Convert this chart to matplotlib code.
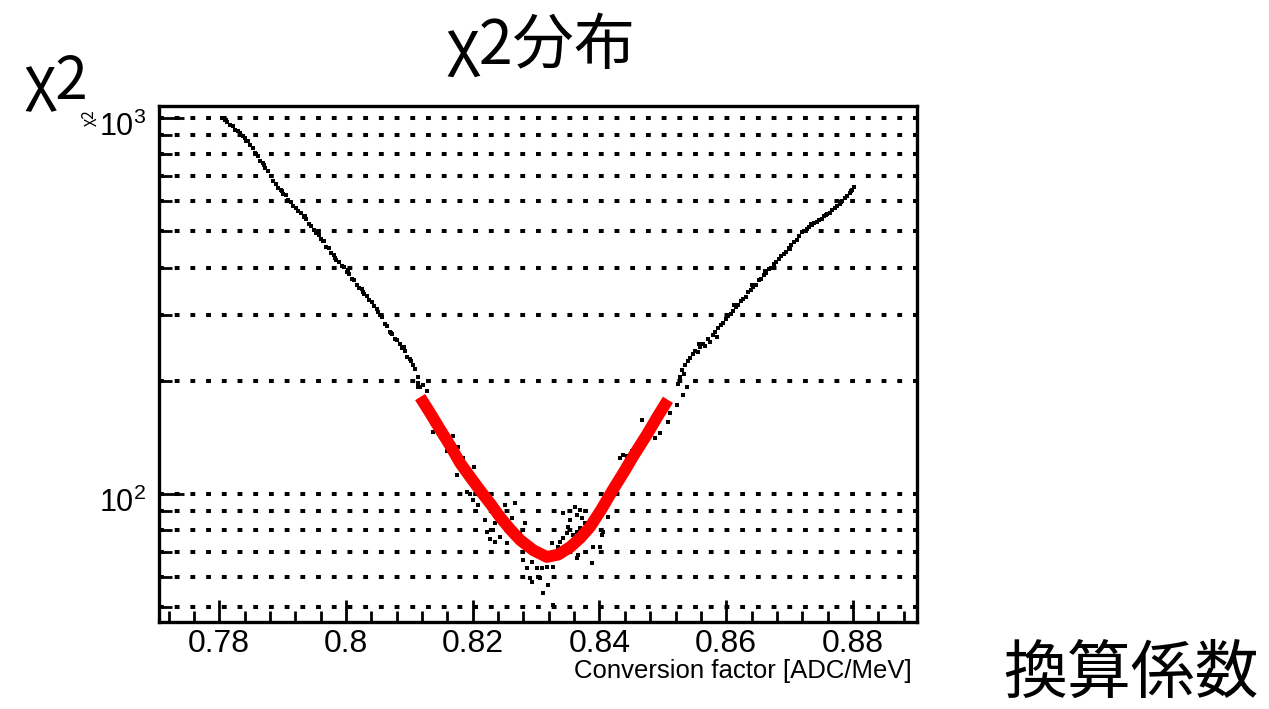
import matplotlib
matplotlib.use("Agg")
import matplotlib.pyplot as plt
import matplotlib.transforms as mtransforms
import numpy as np

plt.rcParams["font.family"] = ["Liberation Sans", "DejaVu Sans"]
plt.rcParams["mathtext.fontset"] = "custom"
plt.rcParams["mathtext.rm"] = "Liberation Sans"
plt.rcParams["mathtext.it"] = "Liberation Sans"

cjk = ["Noto Sans CJK JP", "DejaVu Sans"]

# chi2 scan: conversion factor vs chi2 (black points)
scan_x = [
    0.7805, 0.7809, 0.7811, 0.7813, 0.7817, 0.7821, 0.7825, 0.7829, 0.7833, 0.7837,
    0.7841, 0.7843, 0.7845, 0.7849, 0.7853, 0.7857, 0.7861, 0.7865, 0.7869, 0.7871,
    0.7873, 0.7877, 0.7881, 0.7885, 0.7889, 0.7893, 0.7897, 0.7899, 0.7901, 0.7905,
    0.7909, 0.7913, 0.7917, 0.7921, 0.7925, 0.7929, 0.7933, 0.7935, 0.7937, 0.7941,
    0.7945, 0.7949, 0.7953, 0.7957, 0.7961, 0.7963, 0.7965, 0.7969, 0.7973, 0.7977,
    0.7981, 0.7983, 0.7985, 0.7989, 0.7993, 0.7997, 0.8001, 0.8003, 0.8005, 0.8009,
    0.8013, 0.8017, 0.8021, 0.8025, 0.8027, 0.8029, 0.8033, 0.8037, 0.8041, 0.8045,
    0.8049, 0.8051, 0.8053, 0.8057, 0.8061, 0.8065, 0.8069, 0.8071, 0.8073, 0.8077,
    0.8081, 0.8085, 0.8089, 0.8091, 0.8093, 0.8097, 0.8101, 0.8103, 0.8105, 0.8109,
    0.8113, 0.8114, 0.8114, 0.8117, 0.8122, 0.8128,
    # around the minimum
    0.8138, 0.8169, 0.8160, 0.8177, 0.8185, 0.8202, 0.8175, 0.8191, 0.8196, 0.8212,
    0.8201, 0.8209, 0.8251, 0.8267, 0.8262, 0.8220, 0.8235, 0.8223, 0.8232, 0.8227,
    0.8235, 0.8243, 0.8254, 0.8275, 0.8283, 0.8291, 0.8298, 0.8295, 0.8280, 0.8286,
    0.8294, 0.8302, 0.8309, 0.8317, 0.8327, 0.8291, 0.8294, 0.8306, 0.8319, 0.8311,
    0.8327, 0.8325, 0.8335, 0.8338, 0.8343, 0.8349, 0.8350, 0.8354, 0.8362, 0.8369,
    0.8365, 0.8373, 0.8377, 0.8369, 0.8365, 0.8358, 0.8366, 0.8365, 0.8388, 0.8390,
    0.8401, 0.8404, 0.8406, 0.8343, 0.8414, 0.8433, 0.8437, 0.8444, 0.8451, 0.8461,
    0.8467, 0.8488, 0.8496, 0.8508, 0.8511, 0.8522, 0.8532, 0.8538, 0.8524,
    # right branch
    0.8527, 0.8531, 0.8533, 0.8535, 0.8539, 0.8543, 0.8547, 0.8551, 0.8555, 0.8557,
    0.8559, 0.8563, 0.8567, 0.8571, 0.8575, 0.8579, 0.8583, 0.8585, 0.8587, 0.8591,
    0.8595, 0.8599, 0.8603, 0.8607, 0.8611, 0.8613, 0.8615, 0.8619, 0.8623, 0.8627,
    0.8631, 0.8635, 0.8639, 0.8641, 0.8643, 0.8647, 0.8651, 0.8655, 0.8659, 0.8661,
    0.8663, 0.8667, 0.8671, 0.8673, 0.8675, 0.8679, 0.8683, 0.8687, 0.8691, 0.8695,
    0.8699, 0.8701, 0.8703, 0.8707, 0.8711, 0.8715, 0.8719, 0.8723, 0.8727, 0.8731,
    0.8733, 0.8735, 0.8739, 0.8743, 0.8747, 0.8751, 0.8755, 0.8757, 0.8759, 0.8763,
    0.8767, 0.8771, 0.8775, 0.8779, 0.8781, 0.8783, 0.8787, 0.8791, 0.8795, 0.8797,
    0.8799, 0.8801,
]
scan_chi2 = [
    1000, 985, 990, 978, 958, 950, 930, 925, 910, 896,
    885, 870, 868, 845, 832, 808, 793, 770, 757, 748,
    735, 722, 700, 680, 668, 652, 645, 640, 628, 622,
    604, 598, 585, 575, 566, 560, 545, 548, 538, 522,
    516, 505, 494, 488, 478, 470, 470, 455, 450, 438,
    432, 425, 420, 414, 405, 402, 390, 395, 384, 373,
    370, 360, 352, 350, 344, 340, 336, 327, 325, 316,
    310, 305, 300, 296, 284, 280, 270, 268, 266, 258,
    256, 250, 244, 246, 240, 232, 228, 226, 220, 215,
    205, 197, 193, 192, 195, 188,
    146, 143, 130, 133, 125, 118, 112, 101, 100, 104,
    96.4, 93.5, 93.5, 94.6, 86.3, 85.3, 83.7, 79.2, 80.2, 75.9,
    74.5, 76.9, 74.1, 78.8, 83.7, 73.2, 71.9, 69.7, 66.8, 63.5,
    65.9, 63.5, 63.5, 63.9, 63.9, 59.8, 58.3, 59.8, 57.3, 54.5,
    50.7, 74.1, 72.3, 74.5, 76.4, 78.8, 81.7, 85.3, 92.3, 90.7,
    87.9, 86.3, 83.7, 81.2, 79.2, 77.8, 68.8, 67.6, 65.5, 72.3,
    72.3, 77.8, 79.2, 89.0, 86.9, 124.6, 127.0, 126.2, 130.1, 136.7,
    157.4, 140.9, 145.3, 155.4, 164.3, 172.5, 183.4, 192.6, 196,
    205, 214, 208, 220, 226, 230, 236, 240, 238, 250,
    246, 250, 248, 258, 254, 265, 270, 262, 276, 282,
    285, 292, 298, 301, 306, 318, 314, 318, 326, 330,
    335, 344, 348, 360, 356, 360, 370, 373, 382, 392,
    388, 396, 400, 398, 410, 415, 422, 430, 436, 440,
    452, 448, 458, 468, 474, 486, 496, 502, 508, 513,
    522, 520, 524, 530, 536, 540, 548, 552, 556, 560,
    568, 575, 582, 590, 598, 600, 612, 620, 630, 638,
    645, 655,
]

# fitted curve around the minimum (red)
fit_x = [0.8117, 0.8133, 0.8149, 0.8165, 0.8180, 0.8196, 0.8212, 0.8228, 0.8243,
         0.8259, 0.8275, 0.8296, 0.8317, 0.8335, 0.8354, 0.8370, 0.8385, 0.8403,
         0.8421, 0.8438, 0.8454, 0.8475, 0.8491, 0.8508]
fit_chi2 = [181, 164, 148, 134, 121, 111, 102, 94.2, 86.9,
            80.6, 75.4, 70.8, 68.0, 69.0, 72.3, 76.5, 81.7, 91.0,
            102.5, 114, 126.6, 144, 160, 178]

x_major = [0.78, 0.80, 0.82, 0.84, 0.86, 0.88]
x_labels = ["0.78", "0.8", "0.82", "0.84", "0.86", "0.88"]
y_major = [100, 1000]
y_minor = [50, 60, 70, 80, 90, 200, 300, 400, 500, 600, 700, 800, 900]

fig = plt.figure(figsize=(12.69, 7.09), dpi=100)
ax = fig.add_axes([0.1253, 0.1227, 0.5973, 0.7278])

ax.set_yscale("log")
ax.set_xlim(0.7705, 0.8901)
ax.set_ylim(45.66, 1076)

# dotted grid on every y tick
for g in sorted(y_major + y_minor):
    ax.axhline(g, color="black", lw=2.9, ls=(0, (1.2, 2.7)), zorder=1)

ax.plot(scan_x, scan_chi2, ls="none", marker="s", ms=2.3, color="black", mew=0, zorder=3)
ax.plot(fit_x, fit_chi2, color="red", lw=8.5, solid_capstyle="butt",
        solid_joinstyle="round", zorder=4)

for s in ax.spines.values():
    s.set_linewidth(2.4)

ax.set_yticks(y_major, labels=[r"$10^{2}$", r"$10^{3}$"])
ax.set_yticks(y_minor, minor=True)
ax.yaxis.set_minor_formatter(matplotlib.ticker.NullFormatter())
ax.set_xticks(x_major, labels=x_labels)
ax.set_xticks(np.arange(0.772, 0.890, 0.004), minor=True)

ax.tick_params(axis="both", which="both", direction="in", top=False, right=False, width=2)
ax.tick_params(axis="y", which="major", length=18, labelsize=22, pad=9)
ax.tick_params(axis="y", which="minor", length=9)
ax.tick_params(axis="x", which="major", length=16, labelsize=23, pad=5)
ax.tick_params(axis="x", which="minor", length=8)

# shift the decade labels down a little
shift = mtransforms.ScaledTranslation(0, -4 / 72, fig.dpi_scale_trans)
for t in ax.yaxis.get_major_ticks():
    t.label1.set_transform(t.label1.get_transform() + shift)

ax.text(0.9934, -0.072, "Conversion factor [ADC/MeV]", transform=ax.transAxes,
        ha="right", va="top", fontsize=18.5)
ax.text(-0.092, 0.977, "χ2", transform=ax.transAxes, rotation=90, fontsize=11,
        ha="center", va="center", family=cjk)

fig.text(0.4263, 0.936, "χ2分布", fontsize=44, ha="center", va="center", family=cjk)
fig.text(0.044, 0.885, "χ2", fontsize=42, ha="center", va="center", family=cjk)
fig.text(0.8913, 0.048, "換算係数", fontsize=46, ha="center", va="center", family=cjk)

fig.savefig("out.png", dpi=100, facecolor="white")
